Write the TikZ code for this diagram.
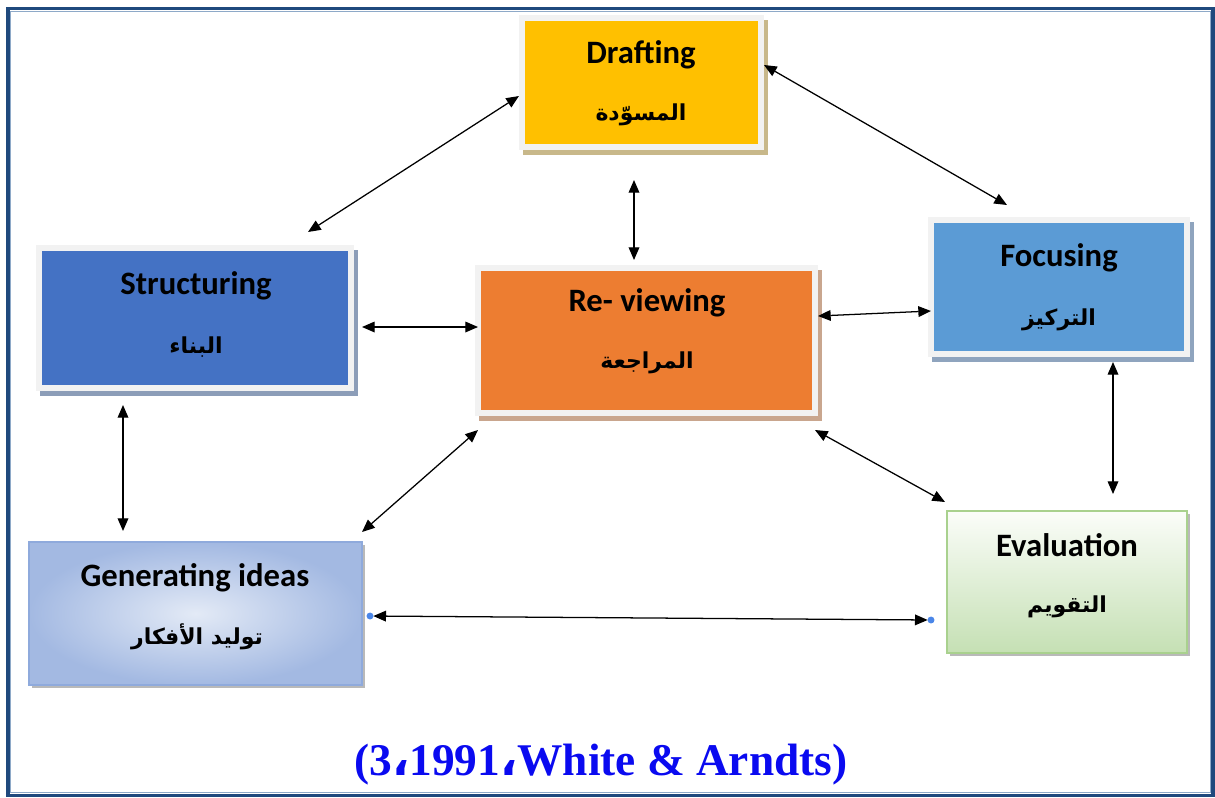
\documentclass[tikz,border=0pt]{standalone}
\usepackage{fontspec}
\usetikzlibrary{arrows.meta,shadows}
\TeXXeTstate=1
\newfontfamily\enfont{Carlito}
\newfontfamily\arabicfont[Script=Arabic]{DejaVu Sans}
\newfontfamily\capfont{Liberation Serif}

\definecolor{framegray}{HTML}{F2F2F2}
\definecolor{borderblue}{HTML}{1F497D}
\definecolor{borderlight}{HTML}{8EA9C8}
\definecolor{draftfill}{HTML}{FFC000}
\definecolor{draftshadow}{HTML}{C8B88A}
\definecolor{structfill}{HTML}{4472C4}
\definecolor{structshadow}{HTML}{8C9DB8}
\definecolor{reviewfill}{HTML}{ED7D31}
\definecolor{reviewshadow}{HTML}{C9A68E}
\definecolor{focusfill}{HTML}{5B9BD5}
\definecolor{focusshadow}{HTML}{8FA4BE}
\definecolor{genlight}{HTML}{E3EAF6}
\definecolor{gendark}{HTML}{A3B9E2}
\definecolor{genborder}{HTML}{8FAADC}
\definecolor{evaltop}{HTML}{FBFDF9}
\definecolor{evalbottom}{HTML}{C5E0B4}
\definecolor{evalborder}{HTML}{A9D18E}
\definecolor{dotblue}{HTML}{4A86E8}
\definecolor{capblue}{HTML}{0A0AF0}

\tikzset{
  stage/.style n args={4}{
    minimum width=#1*0.75pt, minimum height=#2*0.75pt,
    inner sep=0pt, outer sep=0pt, fill=framegray,
    general shadow={fill=#4, shadow xshift=3pt, shadow yshift=-3.75pt},
    path picture={\fill[#3]
      ([shift={(4.5pt,4.5pt)}]path picture bounding box.south west) rectangle
      ([shift={(-4.5pt,-4.5pt)}]path picture bounding box.north east);}
  },
  plainbox/.style 2 args={
    minimum width=#1*0.75pt, minimum height=#2*0.75pt,
    inner sep=0pt, outer sep=0pt
  },
  entext/.style={font=\enfont\bfseries\fontsize{24.5}{28}\selectfont, text=black, inner sep=0pt},
  artext/.style={font=\arabicfont\bfseries\fontsize{16.5}{20}\selectfont, text=black, inner sep=0pt},
  link/.style={{Triangle[length=9.5pt,width=8pt]}-{Triangle[length=9.5pt,width=8pt]}, line width=0.95pt, black},
}

\begin{document}
\begin{tikzpicture}[x=0.75pt,y=-0.75pt]
\useasboundingbox (0,0) rectangle (1215,797);

% outer frame
\draw[borderblue, line width=2.6pt] (8,8.5) rectangle (1213.2,795.3);
\draw[borderlight, line width=0.7pt] (10.8,11) rectangle (1210.6,792.8);

% stage boxes
\node[stage={245}{135}{draftfill}{draftshadow}] (d) at (641.5,82.5) {};
\node[stage={318}{146}{structfill}{structshadow}] (s) at (195,318) {};
\node[stage={343}{151}{reviewfill}{reviewshadow}] (r) at (646.5,340.5) {};
\node[stage={262}{140}{focusfill}{focusshadow}] (f) at (1059,287) {};
\node[plainbox={333}{143}, inner color=genlight, outer color=gendark, draw=genborder, line width=1pt,
      general shadow={fill=gray!55, shadow xshift=2.5pt, shadow yshift=-2.5pt}] (g) at (195.5,613.5) {};
\node[plainbox={240}{142}, top color=evaltop, bottom color=evalbottom, draw=evalborder, line width=1.5pt,
      general shadow={fill=gray!55, shadow xshift=2.5pt, shadow yshift=-2.5pt}] (e) at (1067,582) {};

% labels
\node[entext] (dT) at (641,55) {Drafting};
\node[artext] (dA) at (641,115) {\beginR المسوّدة\endR};
\node[entext] (sT) at (196,286) {Structuring};
\node[artext] (sA) at (196,347) {\beginR البناء\endR};
\node[entext] (rT) at (647,303) {Re- viewing};
\node[artext] (rA) at (647,363) {\beginR المراجعة\endR};
\node[entext] (fT) at (1059,258) {Focusing};
\node[artext] (fA) at (1059,320) {\beginR التركيز\endR};
\node[entext] (gT) at (195,578) {Generating ideas};
\node[artext] (gA) at (197,637) {\beginR توليد الأفكار\endR};
\node[entext] (eT) at (1067,545) {Evaluation};
\node[artext] (eA) at (1067,607) {\beginR التقويم\endR};

% connectors
\draw[link] ([shift={(113,-13)}]s.north) -- ([shift={(0,13.5)}]d.west);
\draw[link] ([shift={(0,-17.5)}]d.east) -- ([shift={(-52,-12)}]f.north);
\draw[link] ([shift={(-7.5,30)}]d.south) -- ([shift={(-12.5,-5)}]r.north);
\draw[link] ([shift={(8,9)}]s.east) -- ([shift={(3,-13.5)}]r.west);
\draw[link] ([shift={(0,-24.5)}]r.east) -- ([shift={(3,24)}]f.west);
\draw[link] ([shift={(-72,14)}]s.south) -- ([shift={(-72.5,-11)}]g.north);
\draw[link] ([shift={(3,14)}]r.south west) -- ([shift={(0,-10)}]g.north east);
\draw[link] ([shift={(-3,14)}]r.south east) -- ([shift={(-2,-9)}]e.north west);
\draw[link] ([shift={(54,5)}]f.south) -- ([shift={(46,-17)}]e.north);

\coordinate (ge) at ([shift={(8,2.5)}]g.east);
\coordinate (eg) at ([shift={(-16,38)}]e.west);
\draw[link, shorten <=2.5pt, shorten >=2.5pt] (ge) -- (eg);
\fill[dotblue] (ge) circle (2.6pt);
\fill[dotblue] (eg) circle (2.6pt);

% source line
\node[font=\capfont\bfseries\fontsize{34}{38}\selectfont, text=capblue, inner sep=0pt] (cap) at (601,765)
  {(3{\arabicfont\bfseries ،}1991{\arabicfont\bfseries ،}White \& Arndts)};
\end{tikzpicture}
\end{document}
